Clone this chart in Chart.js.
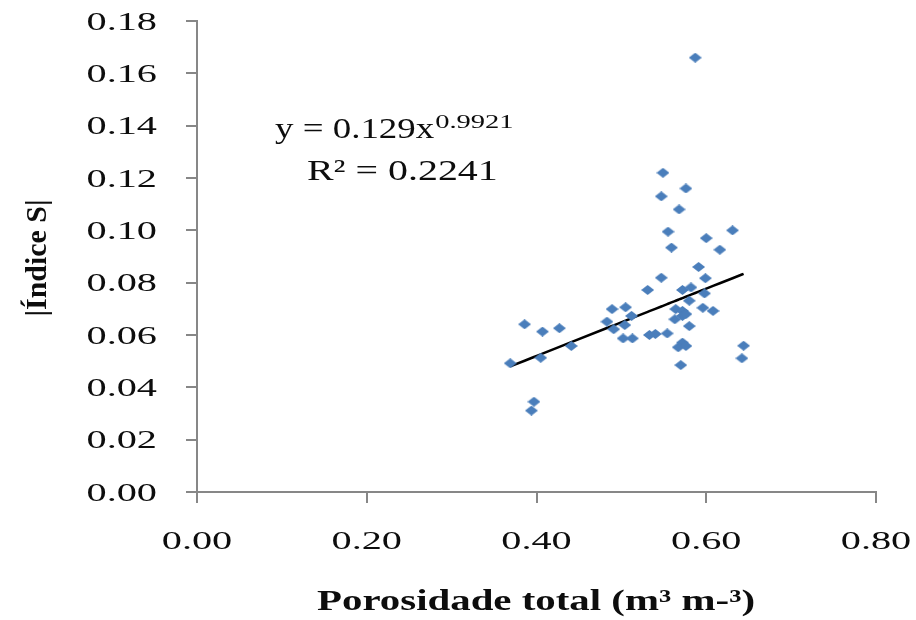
<!DOCTYPE html>
<html>
<head>
<meta charset="utf-8">
<script src="https://cdn.jsdelivr.net/npm/chart.js@4.4.1/dist/chart.umd.min.js"></script>
<style>
  html, body { margin: 0; padding: 0; background: #fff; }
  canvas { display: block; }
</style>
</head>
<body>
<canvas id="grafico" width="916" height="620"></canvas>
<script>
// dados
const porosidade = [0.587, 0.549, 0.576, 0.547, 0.568, 0.555, 0.631, 0.600, 0.559, 0.616,
  0.591, 0.547, 0.599, 0.531, 0.572, 0.582, 0.580, 0.598, 0.564, 0.572,
  0.572, 0.563, 0.596, 0.608, 0.580, 0.489, 0.505, 0.512, 0.483, 0.491,
  0.504, 0.386, 0.407, 0.427, 0.441, 0.405, 0.369, 0.502, 0.513, 0.533,
  0.540, 0.554, 0.572, 0.567, 0.576, 0.570, 0.644, 0.642, 0.397, 0.394, 0.576];
const indiceS = [0.166, 0.122, 0.116, 0.113, 0.108, 0.0995, 0.100, 0.097, 0.0934, 0.0926,
  0.0860, 0.0819, 0.0817, 0.0772, 0.0772, 0.0782, 0.0731, 0.0759, 0.0699, 0.0692,
  0.0673, 0.0660, 0.0704, 0.0692, 0.0634, 0.0699, 0.0706, 0.0673, 0.0651, 0.0622,
  0.0638, 0.0641, 0.0613, 0.0626, 0.0558, 0.0513, 0.0492, 0.0587, 0.0587, 0.0600,
  0.0604, 0.0606, 0.0571, 0.0553, 0.0558, 0.0485, 0.0559, 0.0511, 0.0345, 0.0311, 0.0680];
const xTickLabels = ['0.00', '0.20', '0.40', '0.60', '0.80'];
const yTickLabels = ['0.00', '0.02', '0.04', '0.06', '0.08', '0.10', '0.12', '0.14', '0.16', '0.18'];

// coeficientes da linha de tendência (potência)
const coefA = 0.129;
const coefB = 0.9921;

const pontos = porosidade.map((x, i) => ({ x: x, y: indiceS[i] }));
const xsOrdenados = [...porosidade].sort((a, b) => a - b);
const tendencia = xsOrdenados.map(x => ({ x: x, y: coefA * Math.pow(x, coefB) }));

// marcador em losango achatado
const losango = document.createElement('canvas');
losango.width = 13;
losango.height = 10;
(function() {
  const c = losango.getContext('2d');
  c.fillStyle = '#4A7EBB';
  c.beginPath();
  c.moveTo(6.5, 0); c.lineTo(13, 5); c.lineTo(6.5, 10); c.lineTo(0, 5);
  c.closePath();
  c.fill();
})();

function texto(ctx, str, x, y, font, sx, align, baseline) {
  ctx.save();
  ctx.font = font;
  ctx.fillStyle = '#0d0d0d';
  ctx.textAlign = 'left';
  ctx.textBaseline = baseline || 'middle';
  const w = ctx.measureText(str).width * sx;
  let left = x;
  if (align === 'center') left = x - w / 2;
  if (align === 'right') left = x - w;
  ctx.translate(left, y);
  ctx.scale(sx, 1);
  ctx.fillText(str, 0, 0);
  ctx.restore();
  return w;
}

const textos = {
  id: 'textos',
  afterDraw(chart) {
    const ctx = chart.ctx;
    const sx = chart.scales.x, sy = chart.scales.y;
    const fTick = '26px "Liberation Serif"';

    sy.ticks.forEach((t, i) => {
      texto(ctx, yTickLabels[i], 157, sy.getPixelForValue(t.value) + 2, fTick, 1.55, 'right');
    });
    sx.ticks.forEach((t, i) => {
      texto(ctx, xTickLabels[i], sx.getPixelForValue(t.value), 542, fTick, 1.55, 'center');
    });

    // título do eixo x
    ctx.save();
    ctx.font = 'bold 30px "Liberation Serif"';
    const wx = ctx.measureText('Porosidade total (m³ m-³)').width;
    ctx.restore();
    texto(ctx, 'Porosidade total (m³ m-³)', 536, 602, 'bold 30px "Liberation Serif"', 438 / wx, 'center');

    // título do eixo y (rotacionado)
    ctx.save();
    ctx.font = 'bold 29px "Liberation Serif"';
    const wy = ctx.measureText('|Índice S|').width;
    ctx.translate(46, 258);
    ctx.rotate(-Math.PI / 2);
    ctx.scale(117 / wy, 1);
    ctx.fillStyle = '#0d0d0d';
    ctx.textAlign = 'center';
    ctx.textBaseline = 'alphabetic';
    ctx.fillText('|Índice S|', 0, 0);
    ctx.restore();

    // equação
    const w1 = texto(ctx, 'y = ' + coefA + 'x', 275, 138, '30px "Liberation Serif"', 1.23, 'left', 'alphabetic');
    texto(ctx, String(coefB), 275 + w1 + 1, 128, '19px "Liberation Serif"', 1.5, 'left', 'alphabetic');
    texto(ctx, 'R² = 0.2241', 307, 180, '30px "Liberation Serif"', 1.33, 'left', 'alphabetic');
  }
};

const eixo = {
  grid: { display: true, drawOnChartArea: false, drawTicks: true, tickLength: 11, color: '#878787', lineWidth: 2 },
  border: { display: true, color: '#878787', width: 2 },
  ticks: { display: false }
};

new Chart(document.getElementById('grafico'), {
  type: 'scatter',
  data: {
    datasets: [{
      label: 'Índice S',
      data: pontos,
      pointStyle: losango,
      pointRadius: 6,
      backgroundColor: '#4A7EBB',
      borderColor: '#4A7EBB'
    }, {
      type: 'line',
      label: 'Potência',
      data: tendencia,
      borderColor: '#000',
      borderWidth: 2.5,
      pointRadius: 0,
      fill: false,
      tension: 0
    }]
  },
  options: {
    responsive: false,
    animation: false,
    events: [],
    layout: { padding: { top: 21, right: 40, bottom: 0, left: 0 } },
    plugins: { legend: { display: false }, tooltip: { enabled: false } },
    scales: {
      x: Object.assign({}, eixo, {
        type: 'linear', min: 0, max: 0.8,
        ticks: { display: false, stepSize: 0.2 },
        afterFit(s) { s.height = 128; }
      }),
      y: Object.assign({}, eixo, {
        type: 'linear', min: 0, max: 0.18,
        ticks: { display: false, stepSize: 0.02 },
        afterFit(s) { s.width = 197; }
      })
    }
  },
  plugins: [textos]
});
</script>
</body>
</html>
